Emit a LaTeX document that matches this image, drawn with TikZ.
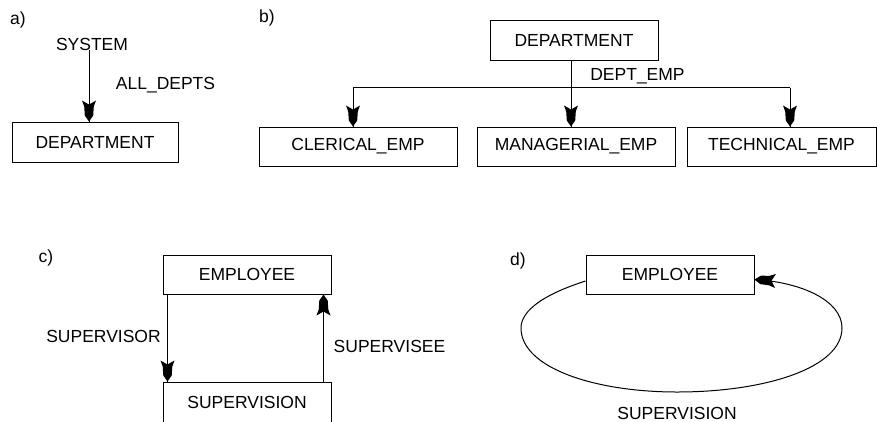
\documentclass[tikz,border=0pt]{standalone}
\usepackage{fontspec}
\setmainfont{Liberation Sans}
\usetikzlibrary{calc}
\tikzset{
  box/.style={draw, line width=1pt, inner sep=0pt, font=\fontsize{17.5}{20}\selectfont},
  lbl/.style={inner sep=0pt, font=\fontsize{17.5}{20}\selectfont},
  conn/.style={line width=1pt},
  plain/.style={line width=1pt},
  tipk/.pic={\fill[black] (0,0) -- (-6,-4.2) -- (-15,-4.8) -- (-21,-7) -- (-17,0) -- (-21,7) -- (-15,4.8) -- (-6,4.2) -- cycle;}
}
\begin{document}
\begin{tikzpicture}[x=1pt,y=-1pt]
\useasboundingbox (0,0) rectangle (877,421);
% a)
\node[lbl] (la) at (18,20) {a)};
\node[lbl] (sys) at (92,44) {SYSTEM};
\node[box, minimum width=166pt, minimum height=40pt] (depa) at (95,142) {DEPARTMENT};
\node[lbl] (alld) at (165.5,85) {ALL\_DEPTS};
\coordinate (a1) at ($(sys.south)+(-3,0)$);
\coordinate (a2) at (a1 |- depa.north);
\draw[conn] (a1) -- (a2);
\pic[rotate=-90] at (a2) {tipk};
% b)
\node[lbl] (lb) at (267,18) {b)};
\node[box, minimum width=168pt, minimum height=40pt] (depb) at (574,40) {DEPARTMENT};
\node[box, minimum width=198pt, minimum height=39pt] (cler) at (358,146.5) {CLERICAL\_EMP};
\node[box, minimum width=198pt, minimum height=39pt] (mana) at (576,146.5) {MANAGERIAL\_EMP};
\node[box, minimum width=189pt, minimum height=39pt] (tech) at (781.5,146.5) {TECHNICAL\_EMP};
\node[lbl] (demp) at (637.5,76) {DEPT\_EMP};
\coordinate (b0) at ($(depb.south)+(-3,0)$);
\coordinate (bj) at ($(b0)+(0,28)$);
\coordinate (bl) at ($(cler.north)+(-5,-39)$);
\coordinate (br) at ($(tech.north)+(8.5,-39)$);
\coordinate (blt) at (bl |- cler.north);
\coordinate (bjt) at (bj |- mana.north);
\coordinate (brt) at (br |- tech.north);
\draw[plain] (b0) -- (bj);
\draw[plain] (bl) -- (br);
\draw[conn] (bl) -- (blt);
\draw[conn] (bj) -- (bjt);
\draw[conn] (br) -- (brt);
\pic[rotate=-90] at (blt) {tipk};
\pic[rotate=-90] at (bjt) {tipk};
\pic[rotate=-90] at (brt) {tipk};
% c)
\node[lbl] (lc) at (46,258) {c)};
\node[box, minimum width=168pt, minimum height=39pt] (empc) at (247,274.5) {EMPLOYEE};
\node[box, minimum width=168pt, minimum height=40pt] (supc) at (247,402) {SUPERVISION};
\node[lbl] (svr) at (103.5,336) {SUPERVISOR};
\node[lbl] (sve) at (389.5,346) {SUPERVISEE};
\coordinate (c1) at ($(empc.south west)+(5,0)$);
\coordinate (c1t) at (c1 |- supc.north);
\coordinate (c2) at ($(supc.north east)+(-8,0)$);
\coordinate (c2t) at (c2 |- empc.south);
\draw[conn] (c1) -- (c1t);
\draw[conn] (c2) -- (c2t);
\pic[rotate=-90] at (c1t) {tipk};
\pic[rotate=90] at (c2t) {tipk};
% d)
\node[lbl] (ld) at (518,261) {d)};
\node[box, minimum width=168pt, minimum height=39pt] (empd) at (670,274.5) {EMPLOYEE};
\node[lbl] (supd) at (677,413) {SUPERVISION};
\coordinate (d1) at ($(empd.west)+(0,6.5)$);
\coordinate (d2) at ($(empd.east)+(0,5)$);
\draw[conn] (d1) .. controls (545,294) and (521,310) .. (521,328)
  .. controls (521,368) and (595,392) .. (677,392)
  .. controls (765,392) and (842,368) .. (842,328)
  .. controls (842,300) and (800,282) .. (d2);
\pic[rotate=176] at (d2) {tipk};
\end{tikzpicture}
\end{document}
